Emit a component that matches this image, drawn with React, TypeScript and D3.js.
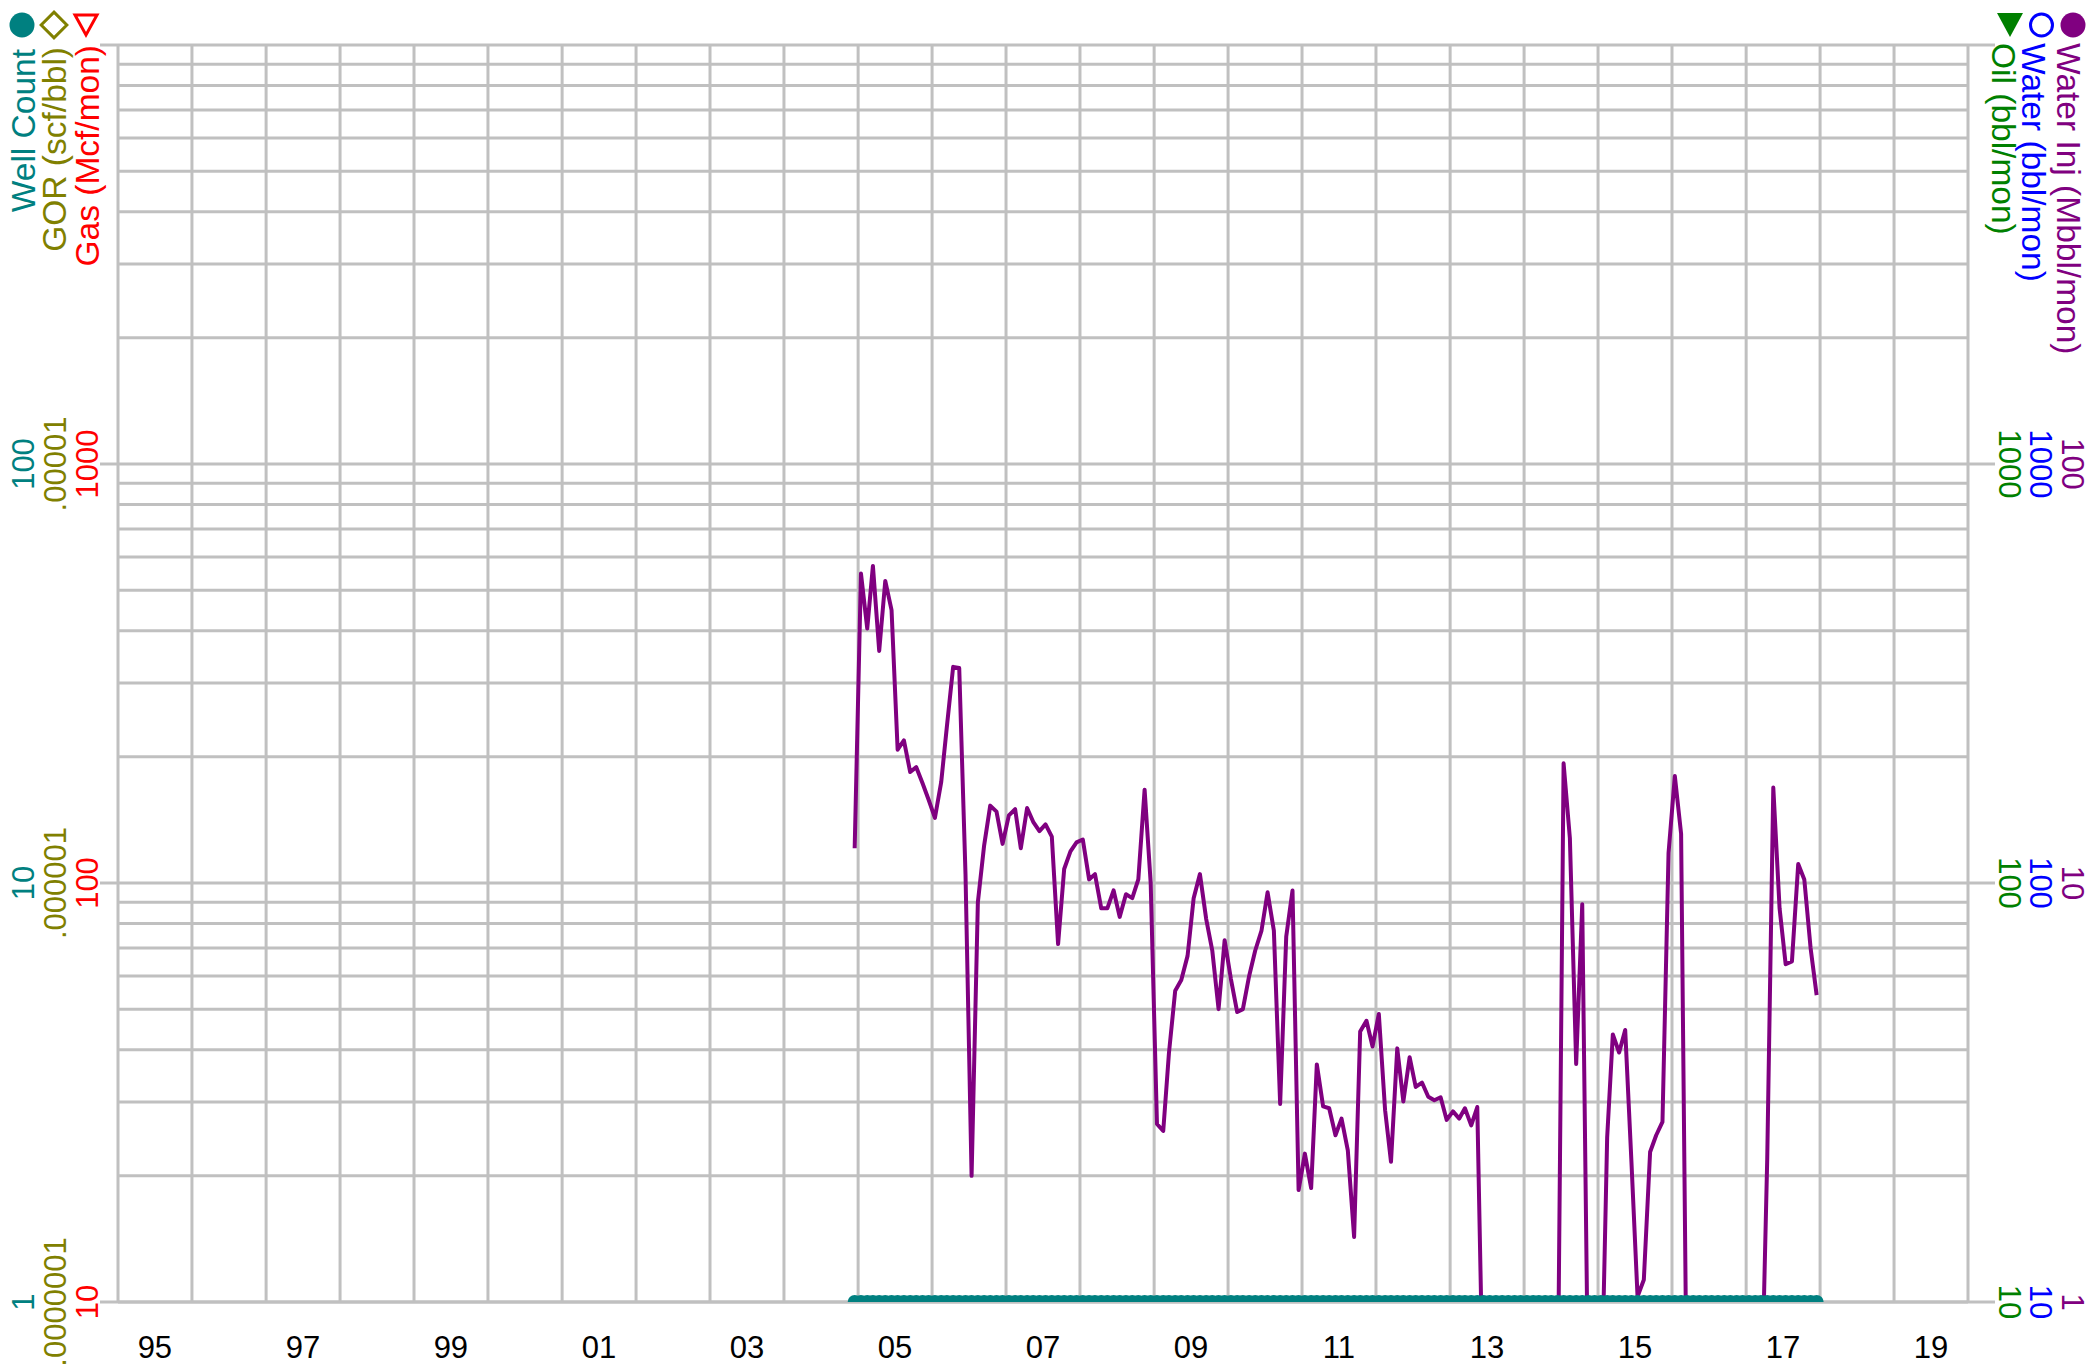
import { useEffect, useRef } from "react";
import * as d3 from "d3";

const WIDTH = 2091;
const HEIGHT = 1369;

// monthly water injection (Mbbl/mon), first point Dec 2004, last Dec 2017; 0 = nothing injected
const injStart = { year: 2004, month: 11 };
const waterInj = [
  12.1, 54.8, 40.5, 57.1, 35.8, 52.6, 44.8, 20.8, 21.9, 18.4,
  18.9, 17.3, 15.8, 14.3, 17.4, 23.6, 32.8, 32.6, 10.5, 2.0,
  9.0, 12.3, 15.3, 14.8, 12.4, 14.5, 15.0, 12.1, 15.1, 14.0,
  13.3, 13.8, 12.9, 7.15, 10.8, 11.9, 12.5, 12.7, 10.2, 10.5,
  8.7, 8.7, 9.6, 8.3, 9.4, 9.2, 10.2, 16.7, 10.0, 2.66,
  2.56, 3.92, 5.53, 5.87, 6.7, 9.2, 10.5, 8.2, 6.9, 5.0,
  7.3, 5.9, 4.92, 5.0, 6.0, 6.9, 7.7, 9.5, 7.7, 2.97,
  7.45, 9.6, 1.85, 2.26, 1.87, 3.69, 2.93, 2.9, 2.5, 2.74,
  2.3, 1.43, 4.42, 4.69, 4.07, 4.87, 2.87, 2.16, 4.03, 3.01,
  3.84, 3.26, 3.34, 3.09, 3.03, 3.08, 2.72, 2.85, 2.74, 2.9,
  2.64, 2.92, 0, 0, 0, 0, 0, 0, 0, 0,
  0, 0, 0, 0, 0, 19.3, 12.8, 3.7, 8.9, 0,
  0, 0, 2.47, 4.35, 3.94, 4.46, 2.15, 1.03, 1.13, 2.28,
  2.5, 2.69, 11.8, 18.0, 13.1, 0, 0, 0, 0, 0,
  0, 0, 0, 0, 0, 0, 0, 0, 2.19, 16.9,
  8.7, 6.4, 6.5, 11.1, 10.2, 7.0, 5.4,
];

// well count: one well the whole time
const wellCountRuns = [{ from: [2004, 11], to: [2017, 11], value: 1 }];

const yearTicks = [1995, 1997, 1999, 2001, 2003, 2005, 2007, 2009, 2011, 2013, 2015, 2017, 2019];
const yearLabels = ["95", "97", "99", "01", "03", "05", "07", "09", "11", "13", "15", "17", "19"];

const wellTicks = [1, 10, 100];
const wellLabels = ["1", "10", "100"];
const gorTicks = [1e-7, 1e-6, 1e-5];
const gorLabels = [".0000001", ".000001", ".00001"];
const gasTicks = [10, 100, 1000];
const gasLabels = ["10", "100", "1000"];
const injTicks = [1, 10, 100];
const injLabels = ["1", "10", "100"];
const waterTicks = [10, 100, 1000];
const waterLabels = ["10", "100", "1000"];
const oilTicks = [10, 100, 1000];
const oilLabels = ["10", "100", "1000"];

const TEAL = "#008080";
const OLIVE = "#808000";
const RED = "#ff0000";
const PURPLE = "#800080";
const BLUE = "#0000ff";
const GREEN = "#008000";
const GRID = "#c0c0c0";
const FONT = "'Liberation Sans', Arial, sans-serif";

export default function App() {
  const ref = useRef<SVGSVGElement>(null);

  useEffect(() => {
    if (!ref.current) return;
    const margin = { top: 45, right: 123, bottom: 67, left: 118 };
    const x0 = margin.left;
    const x1 = WIDTH - margin.right;
    const y0 = margin.top;
    const y1 = HEIGHT - margin.bottom;

    const svg = d3.select(ref.current);
    svg.selectAll("*").remove();
    svg.append("rect").attr("width", WIDTH).attr("height", HEIGHT).attr("fill", "#fff");

    const x = d3
      .scaleTime()
      .domain([new Date(1995, 0, 1), new Date(2020, 0, 1)])
      .range([x0, x1]);

    const yInj = d3.scaleLog().domain([1, 1000]).range([y1, y0]);
    const yWell = d3.scaleLog().domain([1, 1000]).range([y1, y0]);
    const yGor = d3.scaleLog().domain([1e-7, 1e-4]).range([y1, y0]);
    const yGas = d3.scaleLog().domain([10, 10000]).range([y1, y0]);
    const yWater = d3.scaleLog().domain([10, 10000]).range([y1, y0]);
    const yOil = d3.scaleLog().domain([10, 10000]).range([y1, y0]);

    svg
      .append("defs")
      .append("clipPath")
      .attr("id", "plot-clip")
      .append("rect")
      .attr("x", x0)
      .attr("y", y0)
      .attr("width", x1 - x0)
      .attr("height", y1 - y0);

    const grid = svg.append("g").attr("stroke", GRID).attr("stroke-width", 3);

    // horizontal grid (log minor lines)
    grid
      .selectAll("line.h")
      .data(yInj.ticks())
      .join("line")
      .attr("x1", x0)
      .attr("x2", x1)
      .attr("y1", (d) => yInj(d))
      .attr("y2", (d) => yInj(d));

    // decade ticks sticking out both sides
    const decades = [10, 100, 1000];
    grid
      .selectAll("line.tl")
      .data(decades)
      .join("line")
      .attr("x1", x0 - 18)
      .attr("x2", x0)
      .attr("y1", (d) => yInj(d))
      .attr("y2", (d) => yInj(d));
    grid
      .selectAll("line.tr")
      .data(decades)
      .join("line")
      .attr("x1", x1)
      .attr("x2", x1 + 27)
      .attr("y1", (d) => yInj(d))
      .attr("y2", (d) => yInj(d));

    // vertical grid, one per year
    const years = d3.range(1995, 2021).map((yr) => new Date(yr, 0, 1));
    grid
      .selectAll("line.v")
      .data(years)
      .join("line")
      .attr("x1", (d) => x(d))
      .attr("x2", (d) => x(d))
      .attr("y1", y0)
      .attr("y2", y1);

    // bottom axis line
    grid
      .append("line")
      .attr("x1", x0 - 18)
      .attr("x2", x1 + 27)
      .attr("y1", y1)
      .attr("y2", y1);

    const plot = svg.append("g").attr("clip-path", "url(#plot-clip)");

    const monthDate = (i: number) => new Date(injStart.year, injStart.month + i, 15);
    const injData = waterInj.map((v, i) => ({ date: monthDate(i), v }));

    const injLine = d3
      .line<{ date: Date; v: number }>()
      .x((d) => x(d.date))
      .y((d) => yInj(d.v > 0 ? d.v : 0.5));

    plot
      .append("path")
      .datum(injData)
      .attr("fill", "none")
      .attr("stroke", PURPLE)
      .attr("stroke-width", 4)
      .attr("stroke-linejoin", "round")
      .attr("d", injLine);

    // well count, line with dense dot markers
    const wellData: { date: Date; v: number }[] = [];
    wellCountRuns.forEach((run) => {
      let d = new Date(run.from[0], run.from[1], 15);
      const end = new Date(run.to[0], run.to[1], 15);
      while (d <= end) {
        wellData.push({ date: d, v: run.value });
        d = new Date(d.getFullYear(), d.getMonth() + 1, 15);
      }
    });

    const wellLine = d3
      .line<{ date: Date; v: number }>()
      .x((d) => x(d.date))
      .y((d) => yWell(d.v));

    plot
      .append("path")
      .datum(wellData)
      .attr("fill", "none")
      .attr("stroke", TEAL)
      .attr("stroke-width", 4)
      .attr("d", wellLine);

    plot
      .selectAll("circle.well")
      .data(wellData)
      .join("circle")
      .attr("cx", (d) => x(d.date))
      .attr("cy", (d) => yWell(d.v))
      .attr("r", 7)
      .attr("fill", TEAL);

    // year labels, centred in the year
    svg
      .append("g")
      .selectAll("text")
      .data(yearTicks)
      .join("text")
      .attr("x", (d) => x(new Date(d, 6, 2)))
      .attr("y", 1358)
      .attr("text-anchor", "middle")
      .attr("font-family", FONT)
      .attr("font-size", 31)
      .attr("fill", "#000")
      .text((_, i) => yearLabels[i]);

    // rotated tick labels
    const sideLabels = (
      ticks: number[],
      labels: string[],
      scale: d3.ScaleLogarithmic<number, number>,
      bx: number,
      angle: number,
      color: string
    ) => {
      svg
        .append("g")
        .selectAll("text")
        .data(ticks)
        .join("text")
        .attr("transform", (d) => `translate(${bx},${scale(d)}) rotate(${angle})`)
        .attr("text-anchor", "middle")
        .attr("font-family", FONT)
        .attr("font-size", 31)
        .attr("fill", color)
        .text((_, i) => labels[i]);
    };

    sideLabels(wellTicks, wellLabels, yWell, 34, -90, TEAL);
    sideLabels(gorTicks, gorLabels, yGor, 66, -90, OLIVE);
    sideLabels(gasTicks, gasLabels, yGas, 98, -90, RED);
    sideLabels(oilTicks, oilLabels, yOil, 1999, 90, GREEN);
    sideLabels(waterTicks, waterLabels, yWater, 2030, 90, BLUE);
    sideLabels(injTicks, injLabels, yInj, 2062, 90, PURPLE);

    // axis titles
    const title = (text: string, bx: number, by: number, angle: number, anchor: string, color: string) => {
      svg
        .append("text")
        .attr("transform", `translate(${bx},${by}) rotate(${angle})`)
        .attr("text-anchor", anchor)
        .attr("font-family", FONT)
        .attr("font-size", 33.5)
        .attr("fill", color)
        .text(text);
    };

    title("Well Count", 35, 49, -90, "end", TEAL);
    title("GOR (scf/bbl)", 66, 47, -90, "end", OLIVE);
    title("Gas (Mcf/mon)", 99, 45, -90, "end", RED);
    title("Oil (bbl/mon)", 1992, 43, 90, "start", GREEN);
    title("Water (bbl/mon)", 2022, 43, 90, "start", BLUE);
    title("Water Inj (Mbbl/mon)", 2057, 43, 90, "start", PURPLE);

    // legend symbols above the titles
    const sym = svg.append("g");
    sym.append("circle").attr("cx", 22).attr("cy", 25).attr("r", 12.5).attr("fill", TEAL);
    sym
      .append("path")
      .attr("d", d3.symbol(d3.symbolDiamond2, 420)())
      .attr("transform", "translate(54,25)")
      .attr("fill", "none")
      .attr("stroke", OLIVE)
      .attr("stroke-width", 3);
    sym
      .append("path")
      .attr("d", "M75,15 L97,15 L86,35 Z")
      .attr("fill", "none")
      .attr("stroke", RED)
      .attr("stroke-width", 3);
    sym.append("circle").attr("cx", 2073).attr("cy", 25).attr("r", 12.5).attr("fill", PURPLE);
    sym
      .append("circle")
      .attr("cx", 2041.5)
      .attr("cy", 25)
      .attr("r", 11)
      .attr("fill", "none")
      .attr("stroke", BLUE)
      .attr("stroke-width", 3);
    sym.append("path").attr("d", "M1997,13 L2023,13 L2010,37 Z").attr("fill", GREEN);
  }, []);

  return (
    <svg
      ref={ref}
      width={WIDTH}
      height={HEIGHT}
      style={{ position: "absolute", left: 0, top: 0, display: "block" }}
    />
  );
}
